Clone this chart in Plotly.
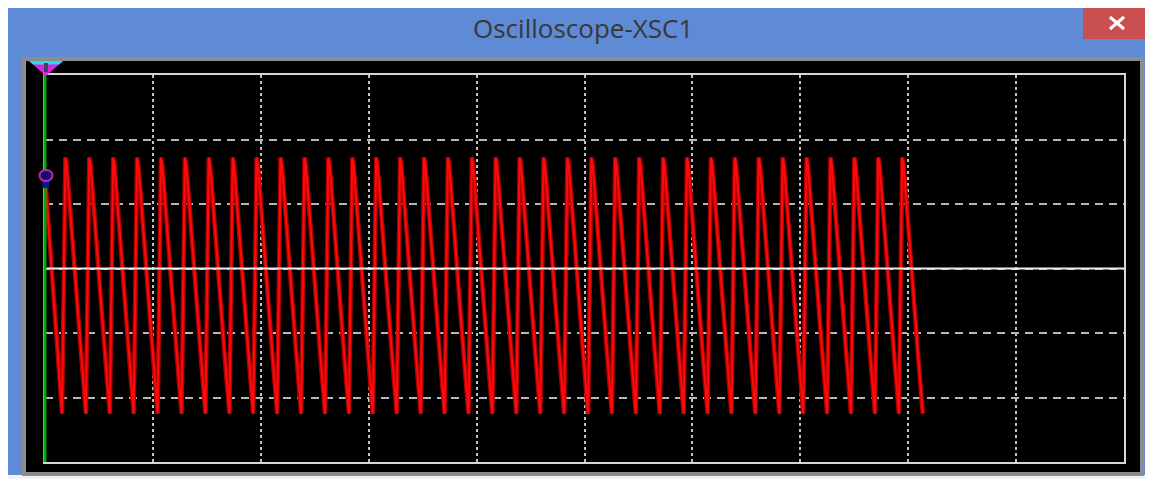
import plotly.graph_objects as go

# ---- data read from the screen (x in divisions 0..10, y in divisions -3..3) ----
# times (div) of each trough of channel A (red)
TROUGH_T = [0.158, 0.379, 0.601, 0.822, 1.044, 1.266, 1.487, 1.709, 1.930, 2.152,
            2.374, 2.595, 2.817, 3.038, 3.260, 3.482, 3.703, 3.925, 4.146, 4.368,
            4.590, 4.811, 5.033, 5.254, 5.476, 5.698, 5.919, 6.141, 6.362, 6.584,
            6.806, 7.027, 7.249, 7.470, 7.692, 7.914, 8.135]
# one cycle of channel A after each trough: time offset (div) and level (div)
CYCLE_DT = [0.000, 0.031, 0.042, 0.055, 0.075, 0.095, 0.115, 0.135, 0.155, 0.175, 0.195, 0.210]
CYCLE_V = [-2.25, 1.72, 1.62, 1.35, 0.95, 0.50, 0.05, -0.40, -0.85, -1.30, -1.75, -2.10]
START_T = [0.0]
START_V = [1.44]
TROUGH_V = -2.25

# channel B (white) flat trace
B_T = [0.0, 10.0]
B_V = [0.0, 0.0]

# build channel A polyline
a_t = list(START_T)
a_v = list(START_V)
for t0 in TROUGH_T[:-1]:
    for dt, v in zip(CYCLE_DT, CYCLE_V):
        a_t.append(t0 + dt)
        a_v.append(v)
a_t.append(TROUGH_T[-1])
a_v.append(TROUGH_V)

OFF = 8  # page body margin
W, H = 1153 - OFF, 479 - OFF
L, R, T, B = 45 - OFF, 29, 75 - OFF, 17
PW, PH = W - L - R, H - T - B


def px(x):  # reference-screen x -> paper
    return (x - 45) / PW


def py(y):  # reference-screen y -> paper
    return (462 - y) / PH


fig = go.Figure()
fig.add_trace(go.Scatter(x=a_t, y=a_v, mode="lines",
                         line=dict(color="#b00000", width=4.5), hoverinfo="skip",
                         showlegend=False))
fig.add_trace(go.Scatter(x=a_t, y=a_v, mode="lines",
                         line=dict(color="#ff0a0a", width=2), hoverinfo="skip",
                         showlegend=False))
fig.add_trace(go.Scatter(x=B_T, y=B_V, mode="lines",
                         line=dict(color="#eeeeee", width=2), hoverinfo="skip",
                         showlegend=False))

shapes = []
# outer window light edge
shapes.append(dict(type="rect", xref="paper", yref="paper",
                   x0=px(0), x1=px(1153), y0=py(479), y1=py(0),
                   line=dict(color="#f2f2f2", width=8), fillcolor="rgba(0,0,0,0)",
                   layer="below"))
# black scope panel with gray frame
shapes.append(dict(type="rect", xref="paper", yref="paper",
                   x0=px(24), x1=px(1142), y0=py(474), y1=py(59),
                   line=dict(color="#8c8c8c", width=4), fillcolor="#000000",
                   layer="below"))
# close button
shapes.append(dict(type="rect", xref="paper", yref="paper",
                   x0=px(1083), x1=px(1147), y0=py(39), y1=py(7),
                   line=dict(width=0), fillcolor="#c9504f"))
shapes.append(dict(type="line", xref="paper", yref="paper",
                   x0=px(1110), x1=px(1124), y0=py(17), y1=py(29),
                   line=dict(color="#ffffff", width=3)))
shapes.append(dict(type="line", xref="paper", yref="paper",
                   x0=px(1110), x1=px(1124), y0=py(29), y1=py(17),
                   line=dict(color="#ffffff", width=3)))
# green cursor
shapes.append(dict(type="line", xref="paper", yref="paper",
                   x0=px(45), x1=px(45), y0=0, y1=py(66),
                   line=dict(color="#00a800", width=3)))
# cursor triangle
shapes.append(dict(type="path", xref="paper", yref="paper",
                   path=f"M {px(29)},{py(61)} L {px(63)},{py(61)} L {px(46)},{py(76)} Z",
                   line=dict(width=0), fillcolor="#e020e0"))
shapes.append(dict(type="path", xref="paper", yref="paper",
                   path=f"M {px(29)},{py(61)} L {px(63)},{py(61)} L {px(59)},{py(64.5)} L {px(33)},{py(64.5)} Z",
                   line=dict(width=0), fillcolor="#20e0f0"))
shapes.append(dict(type="rect", xref="paper", yref="paper",
                   x0=px(44), x1=px(48), y0=py(72), y1=py(63),
                   line=dict(width=0), fillcolor="#404060"))
# channel A marker
shapes.append(dict(type="rect", xref="paper", yref="paper",
                   x0=px(42.5), x1=px(49), y0=py(188), y1=py(179),
                   line=dict(width=0), fillcolor="#0a1a90"))
shapes.append(dict(type="circle", xref="paper", yref="paper",
                   x0=px(39.5), x1=px(52.5), y0=py(181), y1=py(170),
                   line=dict(color="#c020c0", width=2), fillcolor="#101060"))

fig.update_layout(
    width=W, height=H, autosize=False,
    margin=dict(l=L, r=R, t=T, b=B, pad=0),
    paper_bgcolor="#5f8ad6", plot_bgcolor="#000000",
    shapes=shapes,
    annotations=[dict(text="Oscilloscope-XSC1", xref="paper", yref="paper",
                      x=px(583), y=py(28), xanchor="center", yanchor="middle",
                      showarrow=False,
                      font=dict(family="Open Sans", size=26, color="#383838"))],
    xaxis=dict(range=[0, 10], dtick=1, tick0=0, showticklabels=False, ticks="",
               showgrid=True, gridcolor="#c4c4c4", gridwidth=2, griddash="3px,3px",
               zeroline=False, showline=True, mirror=True, linecolor="#d6d6d6",
               linewidth=2, fixedrange=True),
    yaxis=dict(range=[-3, 3], dtick=1, tick0=0, showticklabels=False, ticks="",
               showgrid=True, gridcolor="#b8b8b8", gridwidth=2, griddash="8px,6px",
               zeroline=False, showline=True, mirror=True, linecolor="#d6d6d6",
               linewidth=2, fixedrange=True),
    showlegend=False,
)

fig.write_html("out.html")
